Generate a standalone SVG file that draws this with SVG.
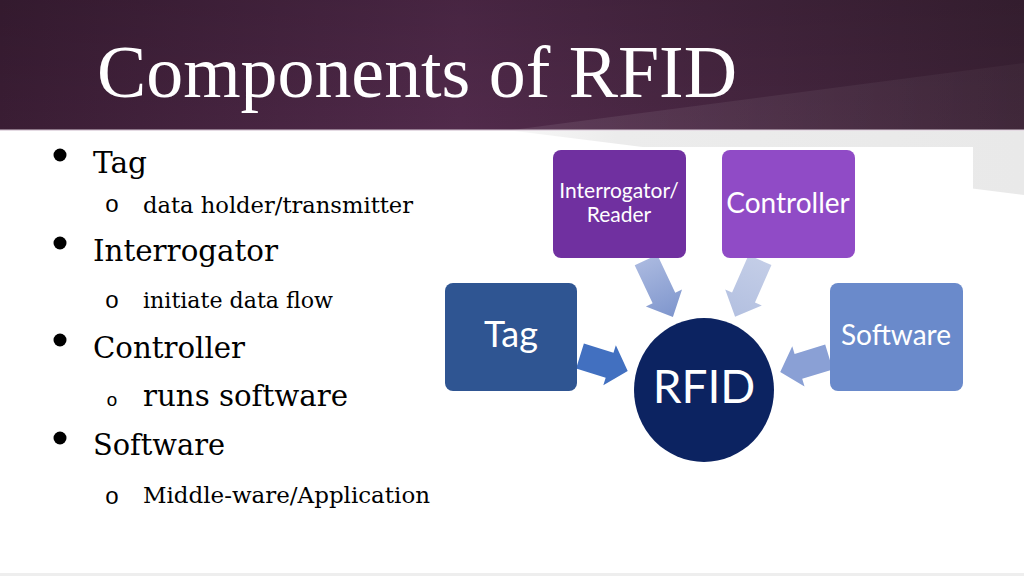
<svg xmlns="http://www.w3.org/2000/svg" width="1024" height="576" viewBox="0 0 1024 576">
  <defs>
    <linearGradient id="hdr" x1="0" y1="0" x2="1" y2="0">
      <stop offset="0" stop-color="#3a1d34"/>
      <stop offset="0.45" stop-color="#512a4b"/>
      <stop offset="1" stop-color="#3a2134"/>
    </linearGradient>
    <linearGradient id="hdrV" x1="0" y1="0" x2="0" y2="1">
      <stop offset="0" stop-color="#000" stop-opacity="0.12"/>
      <stop offset="1" stop-color="#000" stop-opacity="0"/>
    </linearGradient>
    <linearGradient id="band" x1="0" y1="0" x2="1" y2="0">
      <stop offset="0" stop-color="#ffffff" stop-opacity="0.09"/>
      <stop offset="1" stop-color="#ffffff" stop-opacity="0.03"/>
    </linearGradient>
    <linearGradient id="grey" x1="0" y1="0" x2="1" y2="0">
      <stop offset="0" stop-color="#f7f7f7"/>
      <stop offset="0.2" stop-color="#ececec"/>
      <stop offset="1" stop-color="#e9e9e9"/>
    </linearGradient>
    <linearGradient id="a1" x1="0" y1="0" x2="1" y2="0">
      <stop offset="0" stop-color="#a9b8df"/>
      <stop offset="1" stop-color="#7f96cd"/>
    </linearGradient>
    <linearGradient id="a2" x1="0" y1="0" x2="1" y2="0">
      <stop offset="0" stop-color="#c3cde7"/>
      <stop offset="1" stop-color="#b3c0e0"/>
    </linearGradient>
    <style>
      .title{font-family:"Liberation Serif",serif;font-size:73px;fill:#ffffff}
      .b1{font-family:"DejaVu Serif",serif;font-size:29.5px;fill:#000}
      .b2{font-family:"DejaVu Serif",serif;font-size:22.5px;fill:#000}
      .ob{font-family:"Liberation Mono",monospace;font-size:24px;fill:#000;text-anchor:middle}
      .lbl{font-family:Lato,"Open Sans",sans-serif;fill:#ffffff;text-anchor:middle}
    </style>
  </defs>

  <rect x="0" y="0" width="1024" height="576" fill="#ffffff"/>

  <!-- header -->
  <rect x="0" y="0" width="1024" height="130" fill="url(#hdr)"/>
  <rect x="0" y="0" width="1024" height="130" fill="url(#hdrV)"/>
  <polygon points="512,130 1024,63 1024,130" fill="url(#band)"/>
  <rect x="0" y="129.5" width="1024" height="1.2" fill="#d9cbd8"/>
  <text class="title" x="97" y="97" textLength="640" lengthAdjust="spacingAndGlyphs">Components of RFID</text>

  <!-- grey band below header -->
  <polygon points="515,131 1024,131 1024,195" fill="url(#grey)"/>
  <rect x="430" y="147" width="543" height="333" fill="#ffffff"/>
  <rect x="0" y="573" width="1024" height="3" fill="#eeeeee"/>

  <!-- bullet list -->
  <g id="bullets">
    <circle cx="60" cy="155" r="6.5" fill="#000"/>
    <text class="b1" x="93" y="173" textLength="54" lengthAdjust="spacingAndGlyphs">Tag</text>
    <text class="ob" x="112" y="212">o</text>
    <text class="b2" x="143" y="213" textLength="270" lengthAdjust="spacingAndGlyphs">data holder/transmitter</text>

    <circle cx="60" cy="243" r="6.5" fill="#000"/>
    <text class="b1" x="93" y="261" textLength="185" lengthAdjust="spacingAndGlyphs">Interrogator</text>
    <text class="ob" x="112" y="308">o</text>
    <text class="b2" x="143" y="308" textLength="190" lengthAdjust="spacingAndGlyphs">initiate data flow</text>

    <circle cx="60" cy="340" r="6.5" fill="#000"/>
    <text class="b1" x="93" y="358" textLength="152" lengthAdjust="spacingAndGlyphs">Controller</text>
    <text class="ob" x="112" y="406" style="font-size:19px">o</text>
    <text class="b1" x="143" y="406" textLength="205" lengthAdjust="spacingAndGlyphs">runs software</text>

    <circle cx="60" cy="438" r="6.5" fill="#000"/>
    <text class="b1" x="93" y="455" textLength="132" lengthAdjust="spacingAndGlyphs">Software</text>
    <text class="ob" x="112" y="504">o</text>
    <text class="b2" x="143" y="503" textLength="287" lengthAdjust="spacingAndGlyphs">Middle-ware/Application</text>
  </g>

  <!-- connectors -->
  <g id="connectors">
    <path transform="translate(646,260) rotate(64.7)" d="M0,-12.5 L42,-12.5 L42,-20 L63,0 L42,20 L42,12.5 L0,12.5 Z" fill="url(#a1)"/>
    <path transform="translate(760,260) rotate(113.7)" d="M0,-12.5 L41,-12.5 L41,-20 L62,0 L41,20 L41,12.5 L0,12.5 Z" fill="url(#a2)"/>
    <path transform="translate(580,356) rotate(17.4)" d="M0,-13 L31,-13 L31,-21 L50,0 L31,21 L31,13 L0,13 Z" fill="#4270c0"/>
    <path transform="translate(829,357) rotate(163)" d="M0,-13 L32,-13 L32,-21 L51,0 L32,21 L32,13 L0,13 Z" fill="#8aa0d5"/>
  </g>

  <!-- nodes -->
  <g id="node-interrogator">
    <rect x="553" y="150" width="133" height="108" rx="8" fill="#7030a0"/>
    <text class="lbl" x="619" y="198" style="font-size:21px">Interrogator/</text>
    <text class="lbl" x="619" y="222" style="font-size:21px">Reader</text>
  </g>
  <g id="node-controller">
    <rect x="722" y="150" width="133" height="108" rx="8" fill="#904bc6"/>
    <text class="lbl" x="788" y="213" style="font-size:28px">Controller</text>
  </g>
  <g id="node-tag">
    <rect x="445" y="283" width="132" height="108" rx="8" fill="#2f5592"/>
    <text class="lbl" x="511" y="347" style="font-size:36px">Tag</text>
  </g>
  <g id="node-software">
    <rect x="830" y="283" width="133" height="108" rx="8" fill="#6a8acb"/>
    <text class="lbl" x="896" y="345" style="font-size:28px">Software</text>
  </g>
  <g id="node-rfid">
    <ellipse cx="704" cy="390" rx="70" ry="72" fill="#0c2361"/>
    <text class="lbl" x="704" y="403" style="font-size:46px">RFID</text>
  </g>
</svg>
